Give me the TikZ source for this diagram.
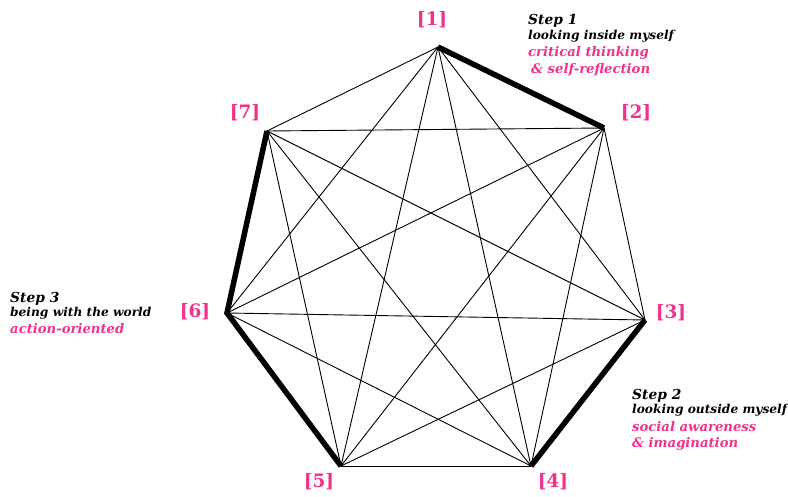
\documentclass[tikz,border=0pt]{standalone}
\usepackage{fontspec}
\setmainfont{DejaVu Serif}
\definecolor{pinkc}{RGB}{240,50,140}
\begin{document}
\begin{tikzpicture}[x=1pt,y=-1pt,
 thinedge/.style={line width=0.9pt},
 thickedge/.style={line width=5.5pt, line cap=butt, line join=miter},
 vlabel/.style={text=pinkc, font=\bfseries\fontsize{18.5}{18.5}\selectfont, inner sep=0},
 steptitle/.style={anchor=base west, inner sep=0, font=\bfseries\itshape\fontsize{13.8}{13.8}\selectfont},
 stepsub/.style={anchor=base west, inner sep=0, font=\bfseries\itshape\fontsize{12.2}{12.2}\selectfont},
 steppink/.style={anchor=base west, inner sep=0, text=pinkc, font=\bfseries\itshape\fontsize{13.2}{13.2}\selectfont}]
\useasboundingbox (0,0) rectangle (788,496);
\coordinate (v1) at (438,47);
\coordinate (v2) at (604,128);
\coordinate (v3) at (645,320);
\coordinate (v4) at (531,466);
\coordinate (v5) at (341,466);
\coordinate (v6) at (227,313);
\coordinate (v7) at (267,131);
\foreach \a/\b in {1/2,1/3,1/4,1/5,1/6,1/7,2/3,2/4,2/5,2/6,2/7,3/4,3/5,3/6,3/7,4/5,4/6,4/7,5/6,5/7,6/7}
  \draw[thinedge] (v\a) -- (v\b);
\draw[thickedge] (v1) -- (v2);
\draw[thickedge] (v3) -- (v4);
\draw[thickedge] (v5) -- (v6) -- (v7);
\node[vlabel] (l1) at (432,20) {[1]};
\node[vlabel] (l2) at (636,113) {[2]};
\node[vlabel] (l3) at (671,313) {[3]};
\node[vlabel] (l4) at (553,482) {[4]};
\node[vlabel] (l5) at (319,482) {[5]};
\node[vlabel] (l6) at (195,312) {[6]};
\node[vlabel] (l7) at (245,113) {[7]};
\node[steptitle] (s1) at (528,24) {Step 1};
\node[stepsub] (s1a) at (528,39) {looking inside myself};
\node[steppink] (s1b) at (528,56) {critical thinking};
\node[steppink] (s1c) at (531,73) {\&\ self-reflection};
\node[steptitle] (s2) at (632,399) {Step 2};
\node[stepsub] (s2a) at (632,413) {looking outside myself};
\node[steppink] (s2b) at (632,431) {social awareness};
\node[steppink] (s2c) at (632,447) {\&\ imagination};
\node[steptitle] (s3) at (10,302) {Step 3};
\node[stepsub] (s3a) at (10,316) {being with the world};
\node[steppink] (s3b) at (10,333) {action-oriented};
\end{tikzpicture}
\end{document}
